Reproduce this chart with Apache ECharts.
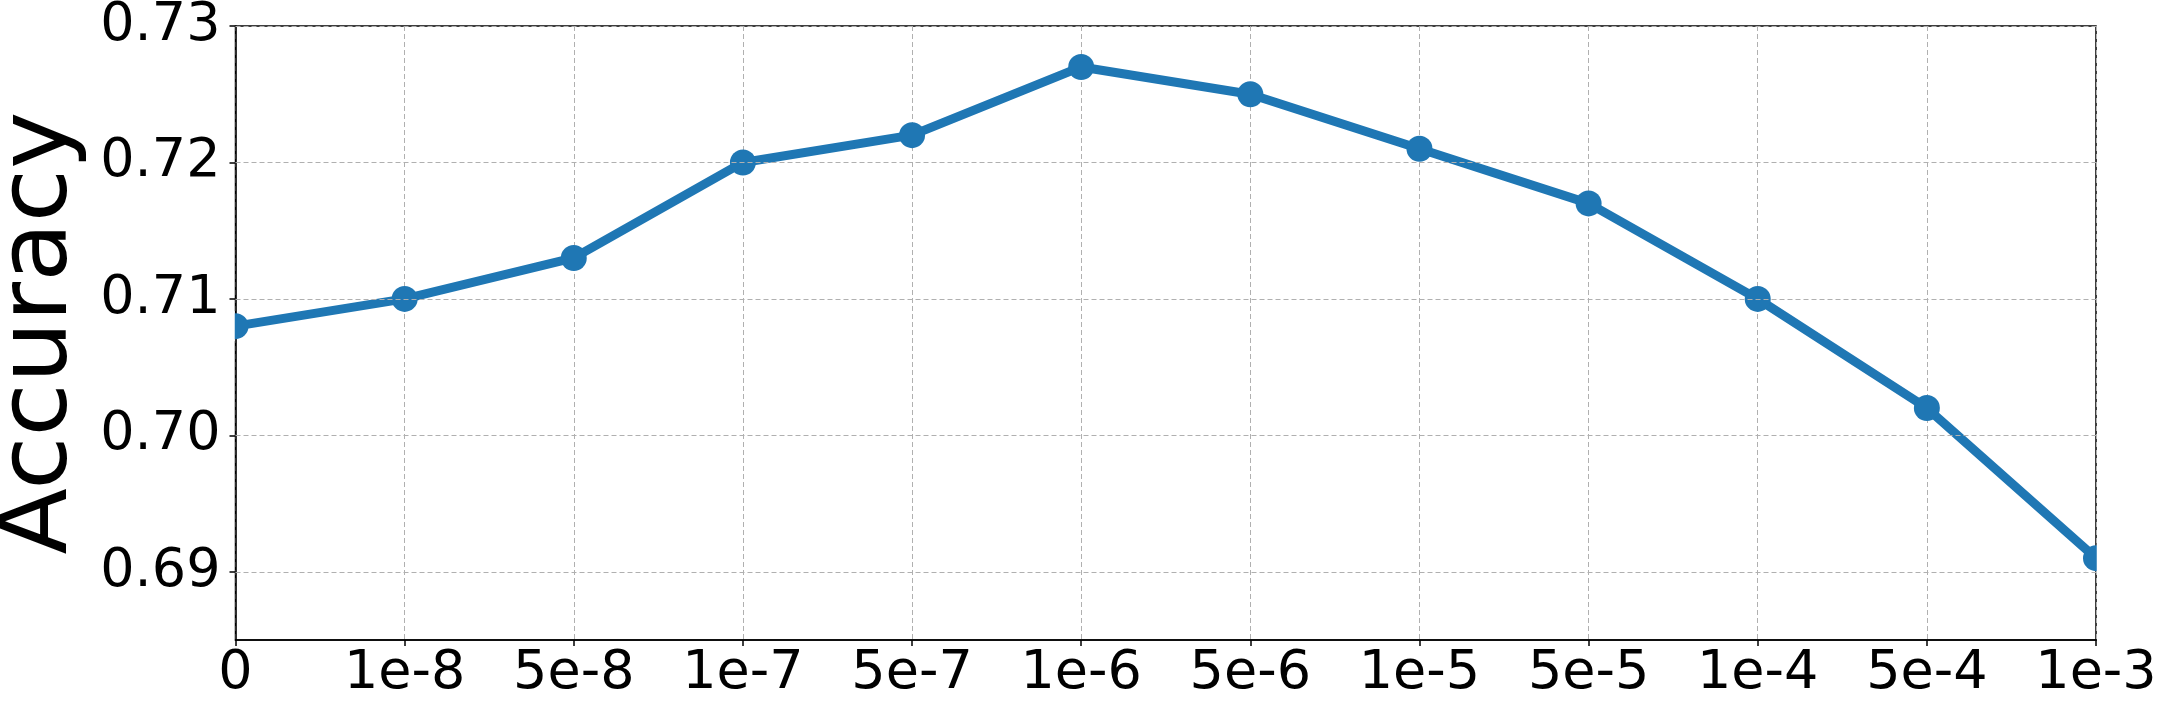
<!DOCTYPE html>
<html>
<head>
<meta charset="utf-8">
<script src="https://cdn.jsdelivr.net/npm/echarts@6/dist/echarts.min.js"></script>
<style>
html,body{margin:0;padding:0;background:#fff;}
#chart{width:2159px;height:704px;}
</style>
</head>
<body>
<div id="chart"></div>
<script>
const categories = ['0','1e-8','5e-8','1e-7','5e-7','1e-6','5e-6','1e-5','5e-5','1e-4','5e-4','1e-3'];
const accuracy = [0.708,0.710,0.713,0.720,0.722,0.727,0.725,0.721,0.717,0.710,0.702,0.691];
const yTicks = [0.69,0.70,0.71,0.72,0.73];
const yMin = 0.685, yMax = 0.73;

const FONT = 'DejaVu Sans';
const MARKER = 26;
const chart = echarts.init(document.getElementById('chart'), null, {renderer:'canvas'});
chart.setOption({
  animation:false,
  backgroundColor:'#fff',
  grid:{left:235.5,right:63,top:26,bottom:64,containLabel:false,outerBoundsMode:'none',
        show:true,borderColor:'#000',borderWidth:1.5,backgroundColor:'transparent'},
  xAxis:{
    type:'category',data:categories,boundaryGap:false,
    axisLine:{show:true,lineStyle:{color:'#000',width:1.5}},
    axisTick:{show:true,alignWithLabel:true,length:6,interval:0,lineStyle:{color:'#000',width:1.5}},
    axisLabel:{interval:0,color:'#000',fontFamily:FONT,fontSize:54,margin:7},
    splitLine:{show:true,interval:0,lineStyle:{color:'#b0b0b0',width:1,type:[5,3]}}
  },
  yAxis:{
    type:'value',min:yMin,max:yMax,
    name:'Accuracy',nameLocation:'middle',nameRotate:90,nameGap:129,
    nameTextStyle:{color:'#000',fontFamily:FONT,fontSize:97},
    axisLine:{show:true,lineStyle:{color:'#000',width:1.5}},
    axisTick:{show:true,length:6,customValues:yTicks,lineStyle:{color:'#000',width:1.5}},
    axisLabel:{customValues:yTicks,color:'#000',fontFamily:FONT,fontSize:54,margin:15,
      formatter:v=>v.toFixed(2)},
    splitLine:{show:false}
  },
  series:[
    {type:'line',data:[],z:1,silent:true,
     markLine:{silent:true,symbol:'none',label:{show:false},animation:false,
       lineStyle:{color:'#b0b0b0',width:1,type:[5,3]},
       data:yTicks.map(v=>({yAxis:v}))}},
    {type:'line',data:accuracy,z:3,
     lineStyle:{color:'#1f77b4',width:9},
     itemStyle:{color:'#1f77b4'},
     symbol:'circle',symbolSize:MARKER,showAllSymbol:true,clip:false}
  ]
});

// Mask the halves of the end markers that fall outside the plot frame (as matplotlib clips them)
const n = categories.length;
const p0 = chart.convertToPixel({seriesIndex:1},[0, accuracy[0]]);
const pN = chart.convertToPixel({seriesIndex:1},[n-1, accuracy[n-1]]);
const h = MARKER/2 + 2;
chart.setOption({
  graphic:[
    {type:'rect',z:10,silent:true,shape:{x:p0[0]-h-1,y:p0[1]-h,width:h+0.25,height:2*h},style:{fill:'#fff'}},
    {type:'rect',z:10,silent:true,shape:{x:pN[0]+0.75,y:pN[1]-h,width:h+1,height:2*h},style:{fill:'#fff'}}
  ]
});
</script>
</body>
</html>
